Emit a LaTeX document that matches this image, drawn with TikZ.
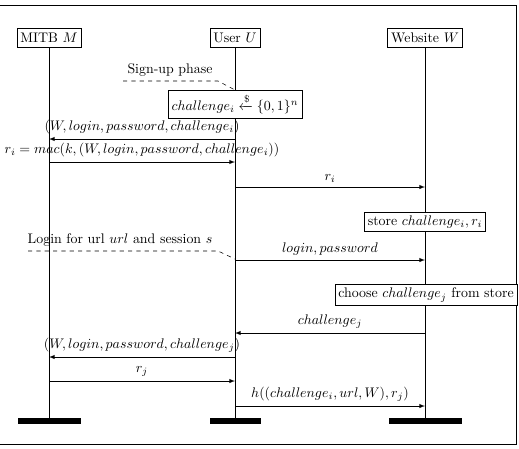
\documentclass[tikz,border=0pt]{standalone}
\usepackage{tikz}
\usepackage{amsmath}
\usetikzlibrary{positioning}

\begin{document}
\begin{tikzpicture}[x=0.72pt,y=-0.72pt,>=latex,
        party/.style={draw,fill=white,minimum height=14pt,inner sep=2.5pt},
        action/.style={draw,fill=white,minimum height=14pt,inner sep=2.5pt},
        bar/.style={fill=black,minimum height=4.3pt,inner sep=0pt}]
        %Frame
            \useasboundingbox (0,0) rectangle (519,448);
            \draw (-5,5) rectangle (516,444);
        %Parties
            \node[party] (m) at (49,38) {MITB $M$};
            \node[party] (u) at (235,38) {User $U$};
            \node[party] (w) at (425,38) {Website $W$};
        %Ends
            \node[bar,minimum width=63*0.72pt] (m-end) at (49,421) {};
            \node[bar,minimum width=51*0.72pt] (u-end) at (235,421) {};
            \node[bar,minimum width=73*0.72pt] (w-end) at (425,421) {};
        %Lifelines
            \foreach \p in {m,u,w}
            {
                \draw (\p) -- (\p-end);
            }
        %Sign-up phase
            \node (signup) at (170,70) {Sign-up phase};
            \coordinate (signup-a) at (123,81);
            \coordinate (signup-b) at (218,81);
            \draw[dashed] (signup-a) -- (signup-b) -- (u |- 0,90);
            \node[action,minimum height=20pt] (choose-i) at (235,104) {$challenge_i \xleftarrow{\$} \{0,1\}^n$};
        %Messages
            \coordinate (t1) at (0,139);
            \coordinate (t2) at (0,162);
            \coordinate (t3) at (0,187);
            \coordinate (t4) at (0,260);
            \coordinate (t5) at (0,333);
            \coordinate (t6) at (0,357);
            \coordinate (t7) at (0,381);
            \coordinate (t8) at (0,406);
            \draw[->] (u |- t1) -- (m |- t1) node[midway,above] {$(W, login, password, challenge_i)$};
            \draw[->] (m |- t2) -- (u |- t2) node[midway,above] {$r_i = mac(k, (W, login, password, challenge_i))$};
            \draw[->] (u |- t3) -- (w |- t3) node[midway,above] {$r_i$};
            \node[action] (store) at (425,222) {store $challenge_i, r_i$};
        %Login phase
            \node (login) at (120,240) {Login for url $url$ and session $s$};
            \coordinate (login-a) at (28,251);
            \coordinate (login-b) at (218,251);
            \draw[dashed] (login-a) -- (login-b) -- (u |- 0,259);
            \draw[->] (u |- t4) -- (w |- t4) node[midway,above] {$login, password$};
            \node[action] (choose-j) at (426,295) {choose $challenge_j$ from store};
            \draw[->] (w |- t5) -- (u |- t5) node[midway,above] {$challenge_j$};
            \draw[->] (u |- t6) -- (m |- t6) node[midway,above] {$(W, login, password, challenge_j)$};
            \draw[->] (m |- t7) -- (u |- t7) node[midway,above] {$r_j$};
            \draw[->] (u |- t8) -- (w |- t8) node[midway,above] {$h((challenge_i, url, W), r_j)$};
    \end{tikzpicture}
\end{document}
